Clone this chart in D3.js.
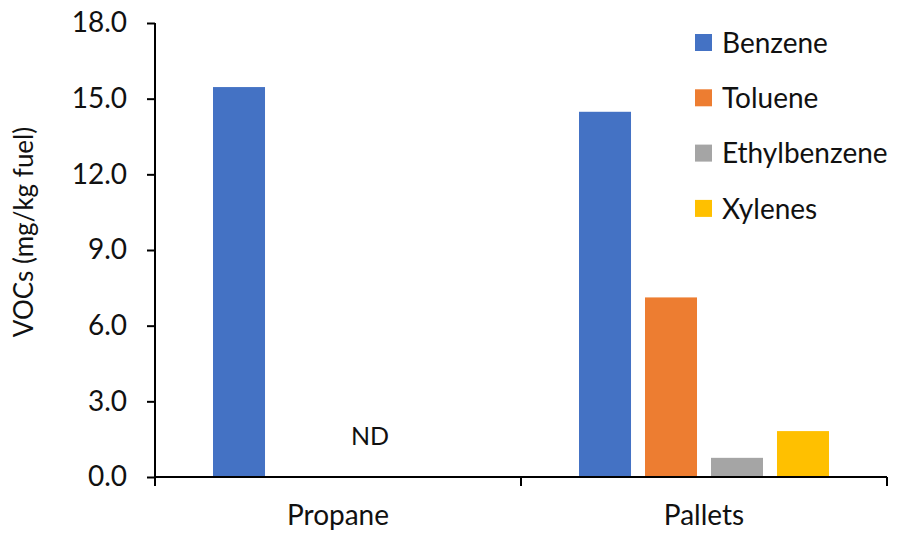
<!DOCTYPE html>
<html>
<head>
<meta charset="utf-8">
<script src="https://cdn.jsdelivr.net/npm/d3@7"></script>
<style>
  body { margin: 0; background: #fff; }
  text { font-family: Lato, "Open Sans", sans-serif; fill: #111; }
</style>
</head>
<body>
<div id="chart"></div>
<script>
'use strict';

var categories = ['Propane', 'Pallets'];
var series = ['Benzene', 'Toluene', 'Ethylbenzene', 'Xylenes'];
var propaneValues = [15.46, 0, 0, 0];
var palletsValues = [14.48, 7.12, 0.76, 1.82];
var yTicks = [0, 3, 6, 9, 12, 15, 18];
var colors = ['#4472C4', '#ED7D31', '#A5A5A5', '#FFC000'];

var rows = [
  { cat: 'Propane', values: propaneValues },
  { cat: 'Pallets', values: palletsValues }
];

var width = 900, height = 533;
var margin = { top: 23, right: 13, bottom: 56, left: 155 };
var innerW = width - margin.left - margin.right;
var innerH = height - margin.top - margin.bottom;

var svg = d3.select('#chart').append('svg')
  .attr('width', width).attr('height', height);
var g = svg.append('g')
  .attr('transform', 'translate(' + margin.left + ',' + margin.top + ')');

var x0 = d3.scaleBand().domain(categories).range([0, innerW]).padding(0);
var x1 = d3.scaleBand().domain(series).range([0, x0.bandwidth()])
  .paddingInner(0.212).paddingOuter(0.879);
var y = d3.scaleLinear().domain([0, 18]).range([innerH, 0]);
var color = d3.scaleOrdinal().domain(series).range(colors);

// bars
var groups = g.selectAll('.grp').data(rows).enter().append('g')
  .attr('class', 'grp')
  .attr('transform', function (d) { return 'translate(' + x0(d.cat) + ',0)'; });

groups.selectAll('rect').data(function (d) {
  return d.values.map(function (v, i) { return { key: series[i], value: v }; })
    .filter(function (e) { return e.value > 0; });
}).enter().append('rect')
  .attr('x', function (d) { return x1(d.key); })
  .attr('y', function (d) { return y(d.value); })
  .attr('width', x1.bandwidth())
  .attr('height', function (d) { return innerH - y(d.value); })
  .attr('fill', function (d) { return color(d.key); });

// ND label for propane
g.append('text')
  .attr('x', x0('Propane') + x1('Ethylbenzene') + x1.bandwidth() / 2 - 1)
  .attr('y', y(1.63))
  .attr('dy', '0.35em')
  .attr('text-anchor', 'middle')
  .style('font-size', '25px')
  .text('ND');

// y axis
var yAxis = d3.axisLeft(y).tickValues(yTicks).tickSize(8).tickPadding(20)
  .tickFormat(d3.format('.1f'));
var yG = g.append('g').call(yAxis);
yG.select('.domain').attr('stroke', '#000').attr('stroke-width', 2).attr('d', 'M0,0V' + innerH);
yG.selectAll('.tick line').attr('stroke', '#000').attr('stroke-width', 2);
yG.selectAll('.tick text').style('font-size', '28px').attr('fill', '#111');

// x axis with category boundary ticks
var xG = g.append('g').attr('transform', 'translate(0,' + innerH + ')');
xG.append('line').attr('x1', 0).attr('x2', innerW).attr('stroke', '#000').attr('stroke-width', 2);
var bounds = [0].concat(categories.map(function (c) { return x0(c) + x0.bandwidth(); }));
xG.selectAll('.bt').data(bounds).enter().append('line')
  .attr('x1', function (d) { return d; }).attr('x2', function (d) { return d; })
  .attr('y1', 0).attr('y2', 9)
  .attr('stroke', '#000').attr('stroke-width', 2);
xG.selectAll('.cl').data(categories).enter().append('text')
  .attr('x', function (d) { return x0(d) + x0.bandwidth() / 2; })
  .attr('y', 48)
  .attr('text-anchor', 'middle')
  .style('font-size', '28px')
  .text(function (d) { return d; });

// y label
svg.append('text')
  .attr('transform', 'translate(33,232) rotate(-90)')
  .attr('text-anchor', 'middle')
  .style('font-size', '26px')
  .text('VOCs (mg/kg fuel)');

// legend
var legend = svg.append('g').attr('transform', 'translate(695,43)');
var li = legend.selectAll('.li').data(series).enter().append('g')
  .attr('transform', function (d, i) { return 'translate(0,' + (i * 55.3) + ')'; });
li.append('rect').attr('x', 0).attr('y', -9).attr('width', 17).attr('height', 17)
  .attr('fill', function (d) { return color(d); });
li.append('text').attr('x', 27).attr('dy', '0.35em')
  .style('font-size', '28px')
  .text(function (d) { return d; });
</script>
</body>
</html>
